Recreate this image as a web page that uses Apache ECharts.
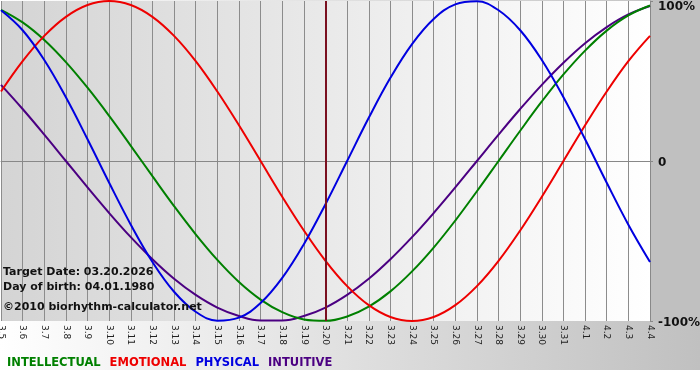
<!DOCTYPE html>
<html>
<head>
<meta charset="utf-8">
<script src="https://cdn.jsdelivr.net/npm/echarts@6/dist/echarts.min.js"></script>
<style>html,body{margin:0;padding:0;background:#fff;}#c{width:700px;height:380px;}</style>
</head>
<body>
<div id="c"></div>
<script>
var days = ['3.5','3.6','3.7','3.8','3.9','3.10','3.11','3.12','3.13','3.14','3.15','3.16','3.17','3.18','3.19','3.20','3.21','3.22','3.23','3.24','3.25','3.26','3.27','3.28','3.29','3.30','3.31','4.1','4.2','4.3','4.4'];
var intellectual = [94.5,86.6,75.6,61.8,45.8,28.2,9.5,-9.5,-28.2,-45.8,-61.8,-75.6,-86.6,-94.5,-99.0,-99.9,-97.2,-91.0,-81.5,-69.0,-54.1,-37.2,-18.9,0,18.9,37.2,54.1,69.0,81.5,91.0,97.2];
var emotional = [43.4,62.4,78.2,90.1,97.5,100,97.5,90.1,78.2,62.4,43.4,22.3,0,-22.3,-43.4,-62.4,-78.2,-90.1,-97.5,-100,-97.5,-90.1,-78.2,-62.4,-43.4,-22.3,0,22.3,43.4,62.4,78.2];
var physical = [94.2,81.7,63.1,39.8,13.6,-13.6,-39.8,-63.1,-81.7,-94.2,-99.8,-97.9,-88.8,-73.1,-52.0,-27.0,0,27.0,52.0,73.1,88.8,97.9,99.8,94.2,81.7,63.1,39.8,13.6,-13.6,-39.8,-63.1];
var intuitive = [47.6,32.5,16.5,0,-16.5,-32.5,-47.6,-61.4,-73.6,-83.7,-91.6,-96.9,-99.7,-99.7,-96.9,-91.6,-83.7,-73.6,-61.4,-47.6,-32.5,-16.5,0,16.5,32.5,47.6,61.4,73.6,83.7,91.6,96.9];
var targetDay = '3.20';
var yTicks = {'100': '100%', '0': '0', '-100': '-100%'};
var infoLines = ['Target Date: 03.20.2026', 'Day of birth: 04.01.1980', '©2010 biorhythm-calculator.net'];

var colors = {INTELLECTUAL:'#008000', EMOTIONAL:'#ee0000', PHYSICAL:'#0000e0', INTUITIVE:'#4b0082'};
var FONT = '"DejaVu Sans", Verdana, sans-serif';
var chart = echarts.init(document.getElementById('c'), null, {renderer:'canvas'});

function mk(name, data) {
  return {
    name: name, type: 'line', data: data, smooth: 0.4, showSymbol: false, symbol: 'none',
    lineStyle: {color: colors[name], width: 2}, itemStyle: {color: colors[name]}
  };
}
var series = [mk('INTUITIVE', intuitive), mk('INTELLECTUAL', intellectual), mk('EMOTIONAL', emotional), mk('PHYSICAL', physical)];
series[0].markLine = {
  silent: true, symbol: 'none', animation: false,
  label: {show: false},
  lineStyle: {color: '#7a1020', width: 2, type: 'solid'},
  data: [{xAxis: targetDay}]
};

var graphics = [
  {type:'rect', z:-10, shape:{x:0, y:0, width:700, height:370},
   style:{fill: new echarts.graphic.LinearGradient(0,0,1,0,[{offset:0,color:'#ffffff'},{offset:1,color:'#c0c0c0'}])}},
  {type:'rect', z:-9, shape:{x:650, y:0, width:50, height:321}, style:{fill:'#c0c0c0'}}
];
var infoY = [272, 287, 307];
infoLines.forEach(function(t, i){
  graphics.push({type:'text', x:3, y:infoY[i], z:10,
    style:{text:t, font:'bold 11px ' + FONT, fill:'#111', verticalAlign:'middle', align:'left'}});
});

chart.setOption({
  animation: false,
  backgroundColor: '#ffffff',
  graphic: graphics,
  grid: {left:1, right:50, top:1, bottom:59, show:true, borderWidth:0, containLabel:false, outerBoundsMode:'none',
    backgroundColor: new echarts.graphic.LinearGradient(0,0,1,0,[{offset:0,color:'#d4d4d4'},{offset:1,color:'#ffffff'}])},
  legend: {
    left: -4, top: 352, itemWidth: 0, itemHeight: 0, itemGap: 3, selectedMode: false,
    itemStyle: {opacity: 0}, lineStyle: {opacity: 0},
    textStyle: {fontFamily: FONT, fontSize: 11.5, fontWeight: 'bold'},
    data: ['INTELLECTUAL','EMOTIONAL','PHYSICAL','INTUITIVE'].map(function(n){
      return {name:n, textStyle:{color: colors[n], fontFamily: FONT, fontSize: 11.5, fontWeight:'bold'}};
    })
  },
  xAxis: {
    type: 'category', data: days, boundaryGap: false,
    axisLine: {show: true, lineStyle: {color: '#888888', width: 1}},
    axisTick: {show: true, interval: 0, length: 3, lineStyle: {color: '#888888'}},
    splitLine: {show: true, interval: 0, lineStyle: {color: '#8c8c8c', width: 1}},
    axisLabel: {interval: 0, rotate: -90, margin: 4, fontSize: 9, fontFamily: FONT, color: '#222', hideOverlap: false}
  },
  yAxis: {
    type: 'value', min: -100, max: 100, interval: 100, position: 'right',
    axisLine: {show: true, lineStyle: {color: '#888888'}},
    axisTick: {show: true, length: 3, lineStyle: {color: '#888888'}},
    splitLine: {show: true, lineStyle: {color: ['rgba(0,0,0,0)', '#8c8c8c', 'rgba(0,0,0,0)'], width: 1}},
    axisLabel: {
      margin: 8,
      formatter: function(v){
        var s = yTicks[String(v)];
        if (v === 100) return '{t|' + s + '}';
        return '{m|' + s + '}';
      },
      rich: {
        t: {fontFamily: FONT, fontSize: 12, fontWeight: 'bold', color: '#111', padding: [11,0,0,0]},
        m: {fontFamily: FONT, fontSize: 12, fontWeight: 'bold', color: '#111', padding: [3,0,0,0]}
      }
    }
  },
  series: series
});
</script>
</body>
</html>
